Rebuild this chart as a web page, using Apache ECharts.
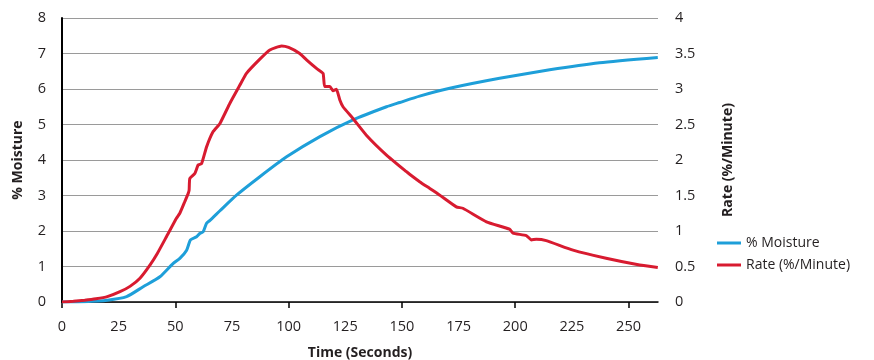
<!DOCTYPE html>
<html>
<head>
<meta charset="utf-8">
<script src="https://cdn.jsdelivr.net/npm/echarts@6/dist/echarts.min.js"></script>
<style>
  html, body { margin: 0; padding: 0; background: #fff; }
  #chart { width: 874px; height: 360px; }
</style>
</head>
<body>
<div id="chart"></div>
<script>
// 时间轴 (秒)
var moistureTime = [0, 10, 20, 28.5, 35.8, 43.2, 49.1, 52, 55, 56.7, 59.4, 60.8, 62.3, 63.8, 65.3, 69.7, 77, 87.3, 99.1, 113.8, 128.4, 143.2, 149, 157.8, 171.1, 193.1, 215.2, 237.2, 262.9]
// % Moisture (左轴)
var moistureValues = [0, 0.01, 0.05, 0.15, 0.43, 0.71, 1.09, 1.23, 1.46, 1.75, 1.84, 1.93, 1.98, 2.22, 2.3, 2.57, 3.01, 3.53, 4.09, 4.66, 5.13, 5.5, 5.62, 5.8, 6.02, 6.3, 6.54, 6.74, 6.89]

var rateTime = [0, 5, 10, 15, 20, 25.6, 30, 34.4, 38.8, 42, 46.1, 50.5, 52, 54.2, 55.7, 56.1, 56.4, 58.6, 60.1, 61.6, 63.8, 66.7, 69.7, 74.1, 78.5, 81.4, 87.3, 91.7, 96.9, 100, 104.9, 107.9, 112.3, 115.2, 115.9, 118.2, 119.6, 121.1, 122.6, 124, 128.4, 134.3, 143.2, 152, 153.4, 157.8, 162.3, 163.7, 166.7, 174, 176.9, 187.3, 197.5, 199, 204.9, 207.1, 209.3, 213.7, 225.5, 240.1, 254.9, 262.9]
// Rate (%/Minute) (右轴)
var rateValues = [0, 0.01, 0.025, 0.045, 0.075, 0.145, 0.22, 0.335, 0.52, 0.68, 0.92, 1.18, 1.25, 1.415, 1.53, 1.575, 1.74, 1.81, 1.93, 1.95, 2.185, 2.4, 2.515, 2.8, 3.055, 3.22, 3.42, 3.55, 3.605, 3.585, 3.5, 3.41, 3.29, 3.22, 3.035, 3.035, 2.975, 2.995, 2.845, 2.75, 2.585, 2.35, 2.07, 1.835, 1.8, 1.695, 1.6, 1.57, 1.505, 1.34, 1.32, 1.13, 1.025, 0.97, 0.935, 0.875, 0.885, 0.865, 0.73, 0.615, 0.52, 0.485]

// 刻度
var xLabelValues = [0, 25, 50, 75, 100, 125, 150, 175, 200, 225, 250]
var xTickValues = [0, 50, 100, 150, 200, 250]

function pairs (xs, ys) {
  return xs.map(function (x, i) { return [x, ys[i]] })
}

var textColor = '#231f20'
var font = '"Open Sans", "Noto Sans", sans-serif'

var myChart = echarts.init(document.getElementById('chart'))
var option = {
  animation: false,
  textStyle: { fontFamily: font, color: textColor },
  grid: { left: 62, right: 216, top: 18, bottom: 58, outerBoundsMode: 'none', containLabel: false },
  legend: {
    orient: 'vertical',
    left: 712,
    top: 231,
    icon: 'rect',
    itemWidth: 24,
    itemHeight: 3,
    itemGap: 8,
    textStyle: { fontFamily: font, fontSize: 14, color: textColor }
  },
  xAxis: {
    type: 'value',
    min: 0,
    max: 263,
    name: 'Time (Seconds)',
    nameLocation: 'middle',
    nameGap: 44,
    nameTextStyle: { fontWeight: 'bold', fontSize: 14, color: textColor },
    axisLine: { lineStyle: { color: '#000', width: 1.5 } },
    axisTick: { customValues: xTickValues, length: 6, lineStyle: { color: '#000', width: 1.5 } },
    axisLabel: { customValues: xLabelValues, margin: 17, fontSize: 14.5, color: textColor },
    splitLine: { show: false }
  },
  yAxis: [
    {
      type: 'value',
      min: 0,
      max: 8,
      interval: 1,
      name: '% Moisture',
      nameLocation: 'middle',
      nameRotate: 90,
      nameGap: 37,
      nameTextStyle: { fontWeight: 'bold', fontSize: 14, color: textColor },
      axisLine: { show: true, lineStyle: { color: '#000', width: 2 } },
      axisTick: { show: false },
      axisLabel: { margin: 16, fontSize: 14.5, color: textColor },
      splitLine: { lineStyle: { color: '#9a9a9a', width: 1 } }
    },
    {
      type: 'value',
      min: 0,
      max: 4,
      interval: 0.5,
      position: 'right',
      name: 'Rate (%/Minute)',
      nameLocation: 'middle',
      nameRotate: 90,
      nameGap: 63,
      nameTextStyle: { fontWeight: 'bold', fontSize: 14, color: textColor },
      axisLine: { show: false },
      axisTick: { show: false },
      axisLabel: { margin: 17, fontSize: 14.5, color: textColor },
      splitLine: { show: false }
    }
  ],
  series: [
    {
      name: '% Moisture',
      type: 'line',
      yAxisIndex: 0,
      data: pairs(moistureTime, moistureValues),
      showSymbol: false,
      smooth: 0.2,
      color: '#1e9fd9',
      lineStyle: { width: 3 }
    },
    {
      name: 'Rate (%/Minute)',
      type: 'line',
      yAxisIndex: 1,
      data: pairs(rateTime, rateValues),
      showSymbol: false,
      smooth: 0.15,
      color: '#d81b30',
      lineStyle: { width: 3 }
    }
  ]
}
myChart.setOption(option)
</script>
</body>
</html>
